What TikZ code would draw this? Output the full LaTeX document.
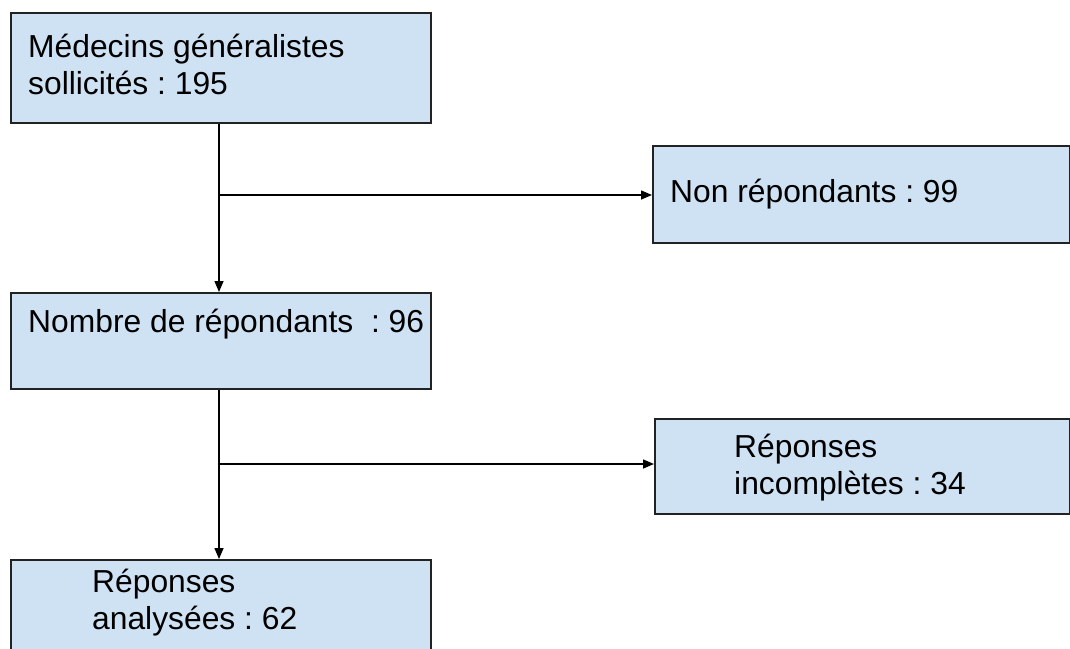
\documentclass[tikz,border=0pt]{standalone}
\usepackage{fontspec}
\setmainfont{Liberation Sans}
\usetikzlibrary{arrows.meta}
\definecolor{boxfill}{HTML}{CFE2F3}
\definecolor{boxline}{HTML}{222222}
\tikzset{
  flowbox/.style={draw=boxline, fill=boxfill, line width=1.8pt, inner sep=0pt},
  flowtext/.style={anchor=base west, inner sep=0pt, align=left, font=\fontsize{31.8}{37}\selectfont\frenchspacing},
  flowarrow/.style={draw=black, line width=1.5pt, -{Triangle[length=11pt,width=9pt]}},
}
\begin{document}
\frenchspacing
\begin{tikzpicture}[x=1pt,y=-1pt]
\clip (0,0) rectangle (1070,648);
\useasboundingbox (0,0) rectangle (1070,648);
% boxes
\node[flowbox, minimum width=420pt, minimum height=110pt, anchor=north west] (b1) at (10,12) {};
\node[flowbox, minimum width=417pt, minimum height=97pt, anchor=north west] (b2) at (652,145) {};
\node[flowbox, minimum width=420pt, minimum height=96pt, anchor=north west] (b3) at (10,292) {};
\node[flowbox, minimum width=415pt, minimum height=95pt, anchor=north west] (b4) at (654,418) {};
\node[flowbox, minimum width=420pt, minimum height=110pt, anchor=north west] (b5) at (10,559) {};
% texts (base anchor = baseline of the last line)
\node[flowtext] (t1) at (28,94) {Médecins généralistes\\sollicités : 195};
\node[flowtext] (t2) at (670,202) {Non répondants : 99};
\node[flowtext] (t3) at (28,332) {Nombre de répondants \ : 96};
\node[flowtext] (t4) at (734,494) {Réponses\\incomplètes : 34};
\node[flowtext] (t5) at (92,629) {Réponses\\analysées : 62};
% connectors
\coordinate (j1) at (219,195);
\coordinate (j2) at (219,464);
\draw[flowarrow] (b1.south -| j1) -- (b3.north -| j1);
\draw[flowarrow] (j1) -- (b2.west |- j1);
\draw[flowarrow] (b3.south -| j2) -- (b5.north -| j2);
\draw[flowarrow] (j2) -- (b4.west |- j2);
\end{tikzpicture}
\end{document}
